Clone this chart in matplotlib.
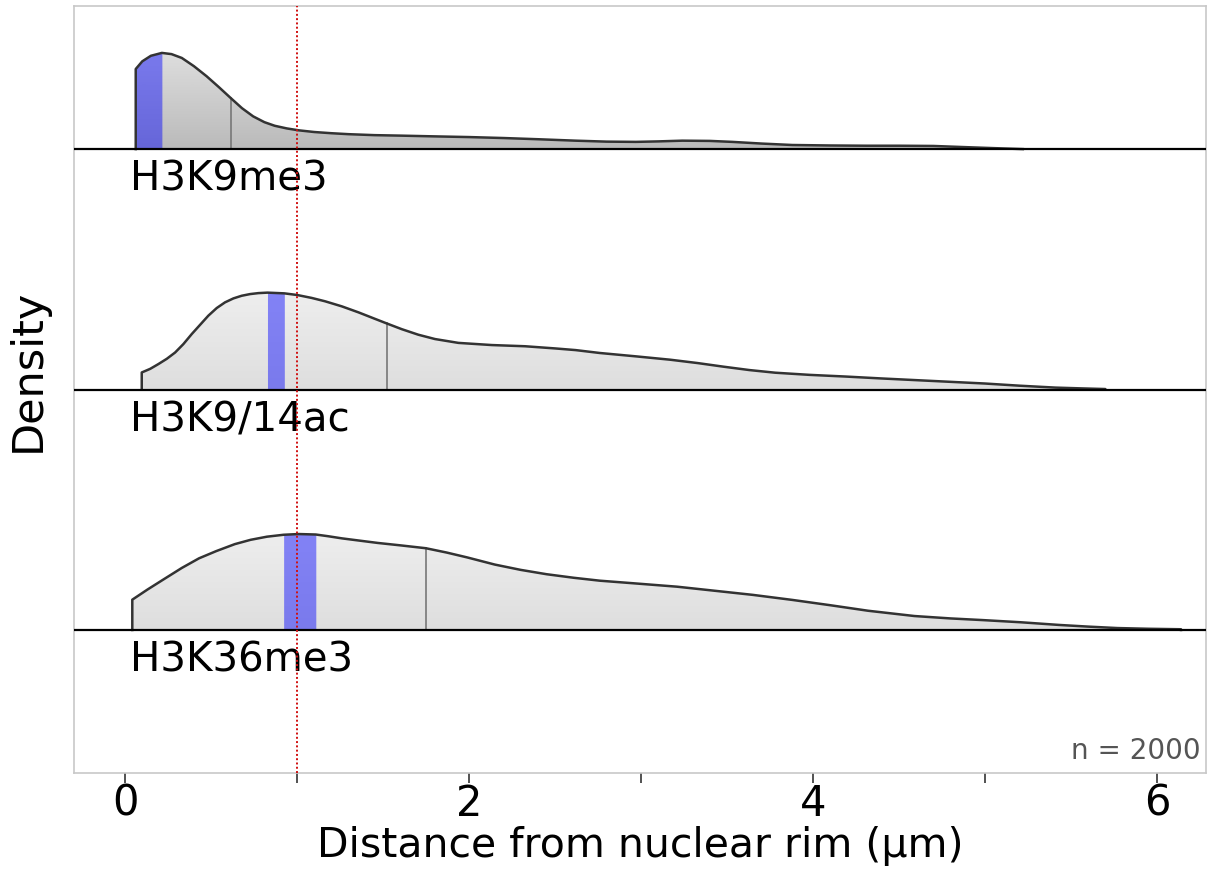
import numpy as np
import matplotlib.pyplot as plt
from matplotlib.colors import LinearSegmentedColormap
from matplotlib.patches import Polygon

# ridge names, top to bottom
marks = ['H3K9me3', 'H3K9/14ac', 'H3K36me3']
offsets = [2, 1, 0]

# density outlines (x in um, scaled height)
k9me3_x = [0.062, 0.10, 0.15, 0.214, 0.27, 0.33, 0.40, 0.474, 0.545, 0.614, 0.68, 0.745,
           0.81, 0.87, 0.94, 1.01, 1.1, 1.2, 1.3, 1.45, 1.6, 1.79, 2.0, 2.2, 2.4, 2.62, 2.8, 2.97,
           3.1, 3.24, 3.4, 3.53, 3.7, 3.88, 4.1, 4.31, 4.5, 4.70, 4.89, 5.05, 5.22]
k9me3_h = [0.333, 0.365, 0.388, 0.40, 0.395, 0.379, 0.345, 0.303, 0.258, 0.2125, 0.17, 0.136,
           0.112, 0.097, 0.086, 0.078, 0.071, 0.066, 0.062, 0.058, 0.056, 0.053, 0.05, 0.046, 0.041,
           0.035, 0.031, 0.030, 0.032, 0.035, 0.034, 0.030, 0.023, 0.017, 0.015, 0.014, 0.014, 0.013,
           0.008, 0.004, 0.0]

k914ac_x = [0.097, 0.146, 0.194, 0.243, 0.291, 0.339, 0.388, 0.436, 0.484, 0.533, 0.581, 0.630,
            0.678, 0.727, 0.775, 0.828, 0.926, 1.002, 1.085, 1.163, 1.26, 1.357, 1.453, 1.521,
            1.609, 1.705, 1.802, 1.938, 2.132, 2.326, 2.5, 2.62, 2.76, 2.97, 3.17, 3.33, 3.48,
            3.63, 3.78, 3.98, 4.19, 4.40, 4.60, 4.80, 5.00, 5.20, 5.41, 5.55, 5.70]
k914ac_h = [0.071, 0.086, 0.106, 0.128, 0.154, 0.189, 0.231, 0.269, 0.307, 0.339, 0.3625, 0.379,
            0.39, 0.397, 0.401, 0.403, 0.40, 0.393, 0.381, 0.367, 0.346, 0.321, 0.294, 0.275,
            0.251, 0.228, 0.21, 0.194, 0.185, 0.180, 0.171, 0.164, 0.152, 0.138, 0.124, 0.11, 0.095,
            0.081, 0.07, 0.061, 0.054, 0.046, 0.039, 0.032, 0.025, 0.016, 0.008, 0.005, 0.002]

k36me3_x = [0.042, 0.13, 0.223, 0.33, 0.43, 0.53, 0.638, 0.73, 0.825, 0.922, 1.01, 1.109, 1.18,
            1.261, 1.37, 1.469, 1.60, 1.749, 1.87, 1.988, 2.15, 2.30, 2.45, 2.61, 2.76, 2.96,
            3.21, 3.43, 3.65, 3.88, 4.10, 4.32, 4.59, 4.80, 4.99, 5.21, 5.43, 5.60, 5.77, 5.95, 6.14]
k36me3_h = [0.126, 0.168, 0.21, 0.258, 0.298, 0.328, 0.357, 0.375, 0.388, 0.396, 0.399, 0.397, 0.39,
            0.381, 0.371, 0.362, 0.352, 0.340, 0.322, 0.302, 0.272, 0.25, 0.232, 0.217, 0.205, 0.194,
            0.180, 0.163, 0.146, 0.125, 0.103, 0.080, 0.058, 0.048, 0.041, 0.032, 0.021, 0.014, 0.008,
            0.005, 0.003]

curves_x = [k9me3_x, k914ac_x, k36me3_x]
curves_h = [k9me3_h, k914ac_h, k36me3_h]

# highlighted (blue) interval and median line per ridge
band_lo = [0.062, 0.828, 0.922]
band_hi = [0.214, 0.926, 1.109]
medians = [0.614, 1.521, 1.749]

cutoff = 1.0
n_cells = 2000

# gray shading, bottom -> top
shades = [('#bababa', '#dedede'), ('#dedede', '#eeeeee'), ('#dedede', '#eeeeee')]

fig = plt.figure(figsize=(12.09, 8.73), dpi=100)
ax = fig.add_axes([0.0612, 0.1145, 0.9363, 0.8786])
ax.set_xlim(-0.297, 6.285)
ax.set_ylim(-0.595, 2.595)

for name, off, xs, hs, lo, hi, med, sh in zip(marks, offsets, curves_x, curves_h,
                                              band_lo, band_hi, medians, shades):
    xs = np.array(xs)
    hs = np.array(hs)
    # shaded area under the curve (gradient clipped to the outline)
    poly = Polygon(np.column_stack([np.r_[xs[0], xs, xs[-1]], off + np.r_[0, hs, 0]]),
                   closed=True, facecolor='none', edgecolor='none')
    ax.add_patch(poly)
    cmap = LinearSegmentedColormap.from_list('g', [sh[0], sh[1]])
    grad = np.linspace(0, 1, 200).reshape(-1, 1)
    im = ax.imshow(grad, cmap=cmap, origin='lower', aspect='auto',
                   extent=[xs[0], xs[-1], off, off + hs.max()], zorder=1)
    im.set_clip_path(poly)
    # blue band
    m = (xs >= lo - 1e-9) & (xs <= hi + 1e-9)
    ax.fill_between(xs[m], off, off + hs[m], color='#0000ff', alpha=0.45, lw=0, zorder=2)
    # median line
    ax.plot([med, med], [off, off + np.interp(med, xs, hs)], color='#777777', lw=1.2, zorder=3)
    # outline
    ax.plot(np.r_[xs[0], xs, xs[-1]], off + np.r_[0, hs, 0], color='#333333', lw=1.8,
            solid_joinstyle='round', zorder=4)
    ax.axhline(off, color='black', lw=1.6, zorder=5)
    ax.text(0.03, off - 0.045, name, ha='left', va='top', fontsize=29, color='black', zorder=6)

ax.axvline(cutoff, color='#d01010', ls=(0, (1, 1.2)), lw=1.4, zorder=7)

ax.text(0.995, 0.01, f'n = {n_cells}', transform=ax.transAxes, ha='right', va='bottom',
        fontsize=20, color='#555555')

ax.set_xticks(range(0, 7))
ax.set_xticklabels(['0', '', '2', '', '4', '', '6'])
ax.set_yticks([])
ax.tick_params(axis='x', length=7, width=1.2, color='#333333', labelsize=30, pad=0)
for s in ax.spines.values():
    s.set_color('#c8c8c8')
    s.set_linewidth(1.2)

ax.set_xlabel('Distance from nuclear rim (\u03bcm)', fontsize=29.5, labelpad=1)
ax.set_ylabel('Density', fontsize=31, labelpad=18)
ax.yaxis.label.set_y(0.525)

fig.savefig('out.png', dpi=100)
